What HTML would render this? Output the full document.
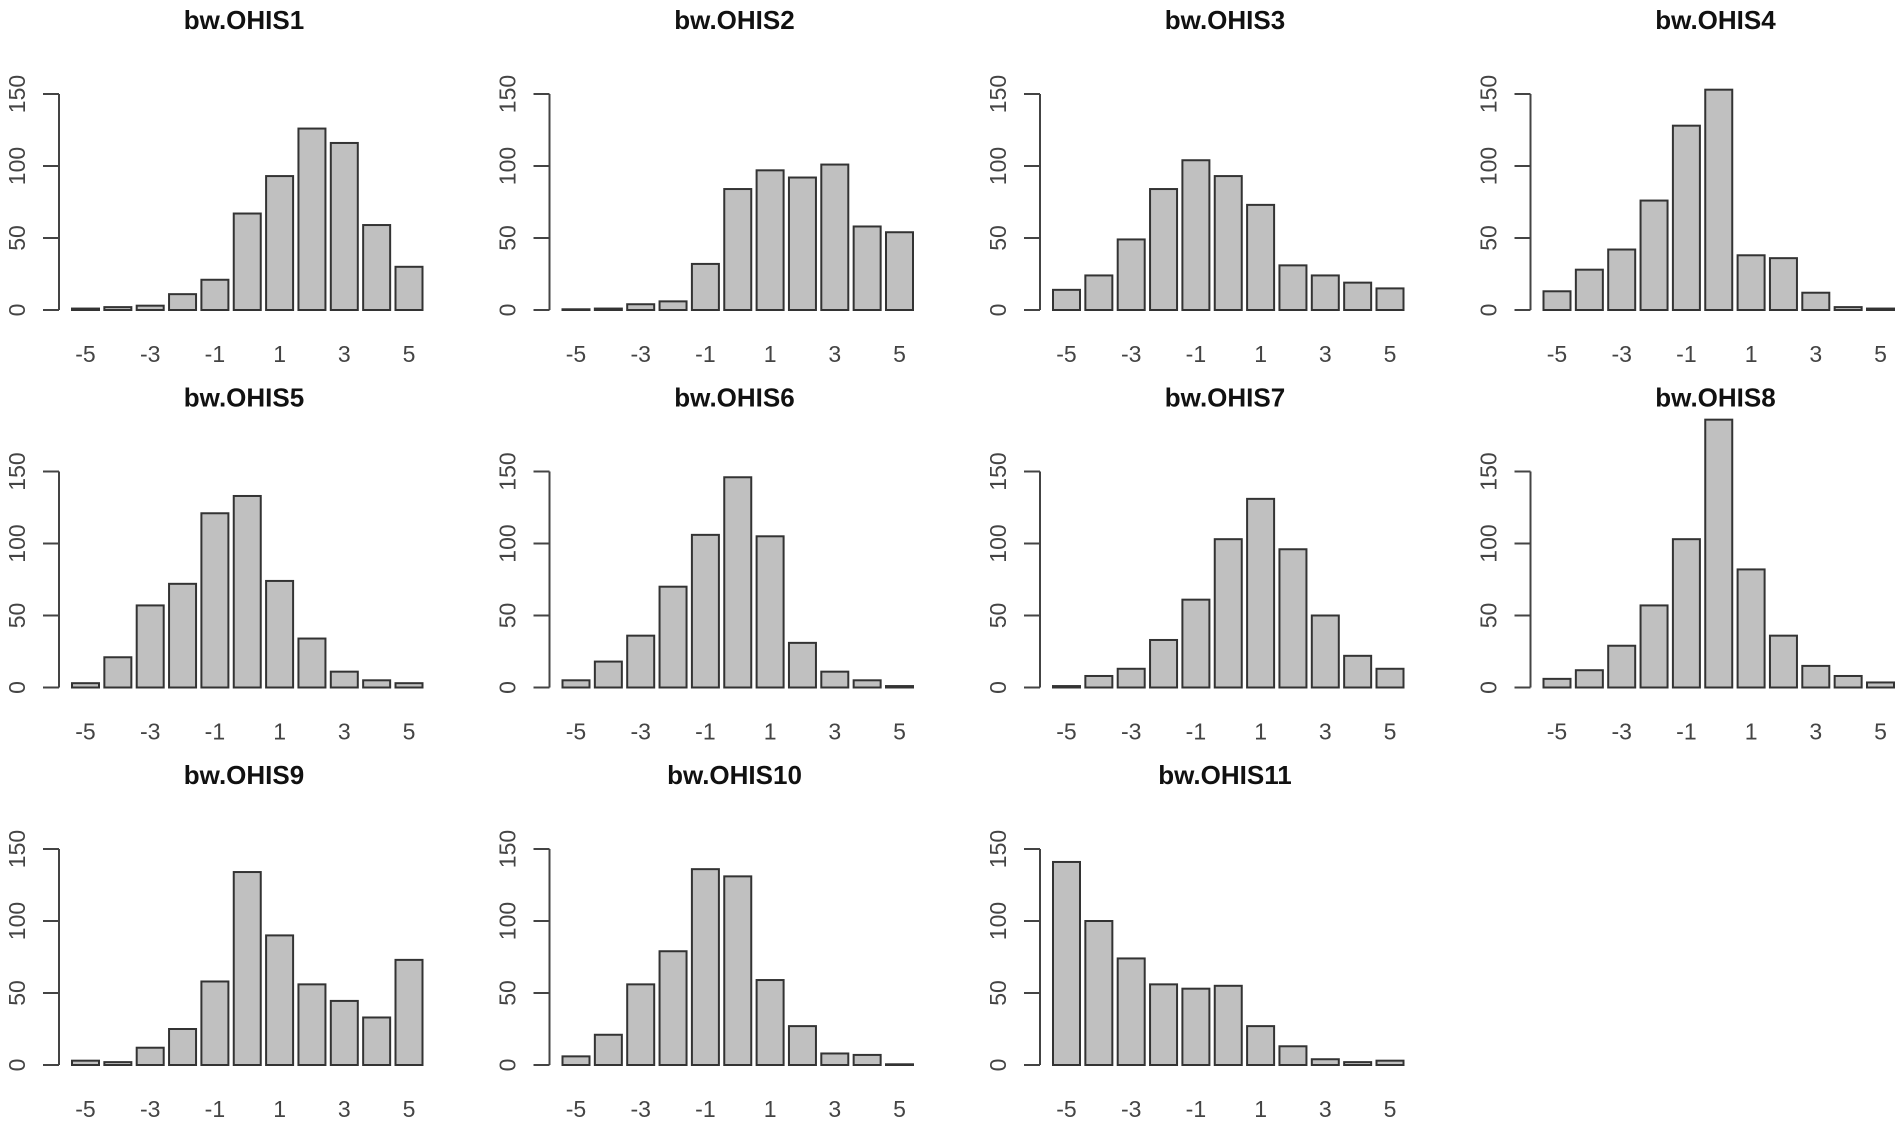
<!DOCTYPE html>
<html><head><meta charset="utf-8"><style>
html,body{margin:0;padding:0;background:#fff;}
svg{display:block;font-family:"Liberation Sans",Arial,sans-serif;}
</style></head><body>
<svg id="chart" width="1902" height="1126" viewBox="0 0 1902 1126"></svg>
<script>
const panelTitles = ["bw.OHIS1","bw.OHIS2","bw.OHIS3","bw.OHIS4","bw.OHIS5","bw.OHIS6","bw.OHIS7","bw.OHIS8","bw.OHIS9","bw.OHIS10","bw.OHIS11"];
const categories = [-5,-4,-3,-2,-1,0,1,2,3,4,5];
const xTickLabels = ["-5","-3","-1","1","3","5"];
const yTicks = [0,50,100,150];
const ohis1 = [1,2,3,11,21,67,93,126,116,59,30];
const ohis2 = [0.5,1,4,6,32,84,97,92,101,58,54];
const ohis3 = [14,24,49,84,104,93,73,31,24,19,15];
const ohis4 = [13,28,42,76,128,153,38,36,12,2,1];
const ohis5 = [3,21,57,72,121,133,74,34,11,5,3];
const ohis6 = [5,18,36,70,106,146,105,31,11,5,1];
const ohis7 = [1,8,13,33,61,103,131,96,50,22,13];
const ohis8 = [6,12,29,57,103,186,82,36,15,8,3.5];
const ohis9 = [3,2,12,25,58,134,90,56,44.5,33,73];
const ohis10 = [6,21,56,79,136,131,59,27,8,7,0.5];
const ohis11 = [141,100,74,56,53,55,27,13,4,2,3];
const series = [ohis1,ohis2,ohis3,ohis4,ohis5,ohis6,ohis7,ohis8,ohis9,ohis10,ohis11];

const NS = "http://www.w3.org/2000/svg";
const svg = document.getElementById("chart");
function mk(tag, attrs, parent){
  const e = document.createElementNS(NS, tag);
  for (const k in attrs) e.setAttribute(k, attrs[k]);
  parent.appendChild(e);
  return e;
}
const colStep = 490.5, rowStep = 377.5;
const axisX0 = 59, zeroY0 = 310, pxPerUnit = 216/150;
const barOff = 13, barStep = 32.35, barW = 27;

series.forEach((vals, p) => {
  const col = p % 4, row = Math.floor(p / 4);
  const ox = col * colStep, oy = row * rowStep;
  const axisX = axisX0 + ox, zeroY = zeroY0 + oy;
  const yScale = v => zeroY - v * pxPerUnit;
  const xScale = i => axisX + barOff + i * barStep;

  const g = mk("g", {}, svg);
  
  

  const t = mk("text", {x: axisX + 185, y: oy + 29, "text-anchor": "middle", "font-size": "26", "font-weight": "bold", fill: "#111"}, g);
  t.textContent = panelTitles[p];
  
  

  const ya = mk("line", {x1: axisX, x2: axisX, y1: yScale(150), y2: yScale(0), stroke: "#444", "stroke-width": 2}, g);
  
  
  yTicks.forEach(v => {
    const y = yScale(v);
    const tk = mk("line", {x1: axisX - 16, x2: axisX, y1: y, y2: y, stroke: "#444", "stroke-width": 2}, g);
    
    
    const lb = mk("text", {x: 0, y: 0, transform: `translate(${axisX - 34},${y}) rotate(-90)`, "text-anchor": "middle", "font-size": "23", fill: "#444"}, g);
    lb.textContent = String(v);
    
    
  });

  vals.forEach((v, i) => {
    const y = yScale(v);
    const r = mk("rect", {x: xScale(i), y: y, width: barW, height: Math.max(zeroY - y, 0.5), fill: "#c0c0c0", stroke: "#333", "stroke-width": 2}, g);
    
    
  });

  xTickLabels.forEach((s, k) => {
    const lb = mk("text", {x: xScale(k * 2) + barW / 2, y: zeroY + 52, "text-anchor": "middle", "font-size": "23", fill: "#444"}, g);
    lb.textContent = s;
    
    
  });
});
</script>
</body></html>
